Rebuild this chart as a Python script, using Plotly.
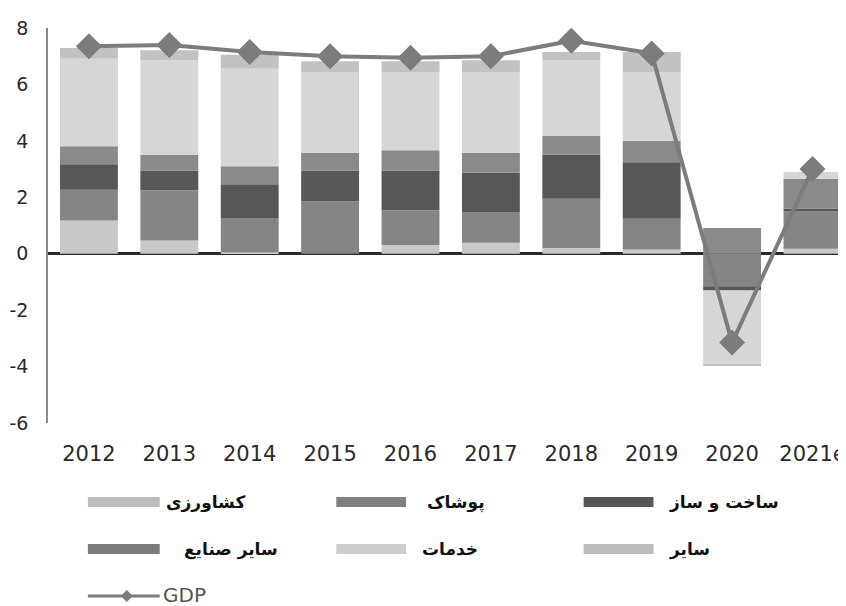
import plotly.graph_objects as go

years = ["2012", "2013", "2014", "2015", "2016", "2017", "2018", "2019", "2020", "2021e"]
y_ticks = [-6, -4, -2, 0, 2, 4, 6, 8]

# sector contributions to growth (percentage points)
agriculture = [1.18, 0.47, 0.05, 0.0, 0.31, 0.39, 0.20, 0.15, 0.0, 0.18]
garments = [1.09, 1.78, 1.22, 1.86, 1.23, 1.09, 1.75, 1.09, -1.15, 1.32]
construction = [0.90, 0.70, 1.19, 1.09, 1.41, 1.39, 1.56, 2.00, -0.15, 0.10]
other_industry = [0.64, 0.56, 0.64, 0.63, 0.72, 0.71, 0.66, 0.76, 0.91, 1.06]
services = [3.10, 3.35, 3.46, 2.86, 2.77, 2.84, 2.69, 2.44, -2.60, 0.24]
other = [0.38, 0.35, 0.49, 0.38, 0.38, 0.44, 0.29, 0.71, -0.08, 0.0]
gdp = [7.35, 7.4, 7.15, 7.0, 6.95, 7.0, 7.55, 7.1, -3.15, 3.0]

series = [
    ("کشاورزی", agriculture, "#c8c8c8"),
    ("پوشاک", garments, "#858585"),
    ("ساخت و ساز", construction, "#575757"),
    ("سایر صنایع", other_industry, "#8a8a8a"),
    ("خدمات", services, "#d6d6d6"),
    ("سایر", other, "#c2c2c2"),
]
legend_swatch = ["#bdbdbd", "#808080", "#555555", "#7c7c7c", "#cdcdcd", "#bbbbbb"]

fig = go.Figure()
for name, vals, col in series:
    fig.add_trace(go.Bar(x=years, y=vals, name=name, marker_color=col,
                         marker_line_width=0, showlegend=False))

fig.add_trace(go.Scatter(x=years, y=gdp, name="GDP", mode="lines+markers",
                         line=dict(color="#7c7c7c", width=4),
                         marker=dict(symbol="diamond", size=20, color="#7c7c7c"),
                         showlegend=False))

# hand-built legend below the plot (wide swatches as in the original)
# positions are in page pixels; the page body adds an 8px offset
W, L, T, B = 798, 48, 28, 423
def px(x):
    return (x - L) / W
def py(y):
    return (B - y) / (B - T)

shapes = []
annotations = []
cols = [(88, 160), (337, 407), (585, 655)]
rows = [502, 549]
text_x = [[164, 426, 669], [182, 421, 669]]
for i, (name, _, _) in enumerate(series):
    r, c = divmod(i, 3)
    x0, x1 = cols[c]
    yc = rows[r]
    shapes.append(dict(type="rect", xref="paper", yref="paper",
                       x0=px(x0), x1=px(x1), y0=py(yc + 5), y1=py(yc - 5),
                       fillcolor=legend_swatch[i], line_width=0))
    annotations.append(dict(xref="paper", yref="paper", x=px(text_x[r][c]), y=py(yc),
                            text=name, showarrow=False, xanchor="left", yanchor="middle",
                            font=dict(family="DejaVu Sans", size=17, color="#111111",
                                      weight="bold")))

shapes.append(dict(type="line", xref="paper", yref="paper",
                   x0=px(88), x1=px(160), y0=py(596), y1=py(596),
                   line=dict(color="#7c7c7c", width=3)))
shapes.append(dict(type="path", xref="paper", yref="paper",
                   path="M {0} {1} L {2} {3} L {0} {4} L {5} {3} Z".format(
                       px(127), py(590), px(133), py(596), py(602), px(121)),
                   fillcolor="#7c7c7c", line_width=0))
annotations.append(dict(xref="paper", yref="paper", x=px(161), y=py(595),
                        text="GDP", showarrow=False, xanchor="left", yanchor="middle",
                        font=dict(family="DejaVu Sans", size=20, color="#555555")))

fig.update_layout(
    width=838, height=598,
    margin=dict(l=40, r=0, t=20, b=183),
    paper_bgcolor="white", plot_bgcolor="white",
    barmode="relative", bargap=0.28,
    shapes=shapes, annotations=annotations,
    font=dict(family="DejaVu Sans", color="#333333"),
)
fig.update_xaxes(range=[-0.509, 9.392], showgrid=False, ticks="",
                 tickfont=dict(size=21, color="#2a2a2a"),
                 ticklabelstandoff=16, showline=False)
fig.update_yaxes(range=[-6, 8], tickvals=y_ticks, ticktext=[str(v) for v in y_ticks],
                 showgrid=False, ticks="",
                 showline=True, linecolor="#8a8a8a", linewidth=1.5,
                 zeroline=True, zerolinecolor="#2a2a2a", zerolinewidth=2.5,
                 tickfont=dict(size=19, color="#2a2a2a"),
                 ticklabelstandoff=14)

fig.write_html("out.html")
